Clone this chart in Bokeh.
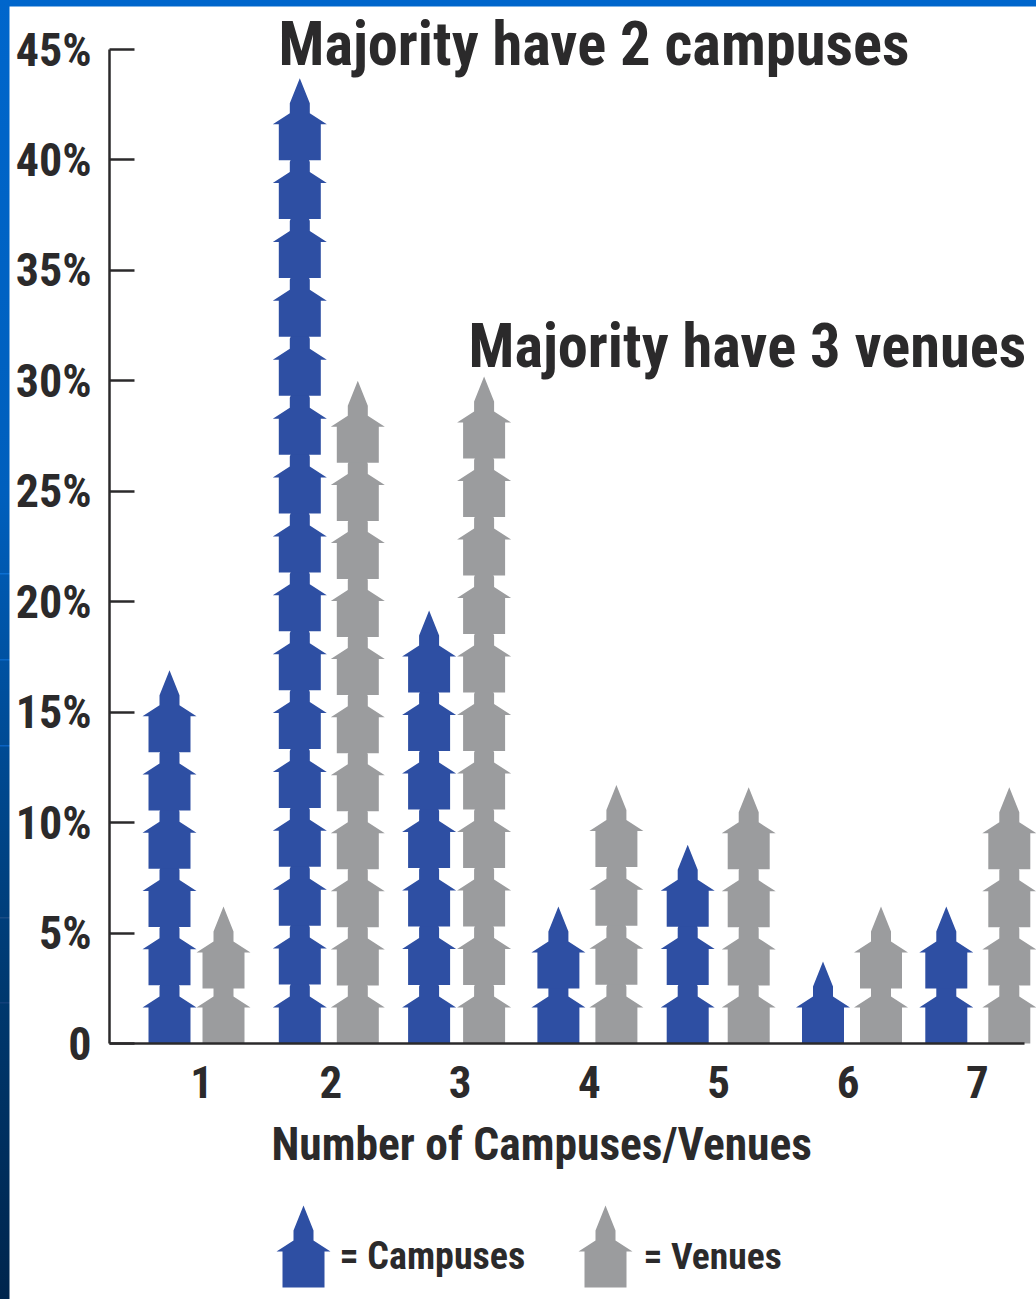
from bokeh.plotting import figure
from bokeh.embed import file_html
from bokeh.resources import INLINE
from bokeh.core.properties import value
from bokeh.models import GlobalInlineStyleSheet, FixedTicker, Range1d

# ---- data -------------------------------------------------------------
categories = [1, 2, 3, 4, 5, 6, 7]
campuses = [16.9, 43.7, 19.6, 6.2, 9.0, 3.6, 6.2]
venues = [6.2, 30.0, 30.2, 11.7, 11.6, 6.2, 11.6]
y_ticks = [0, 5, 10, 15, 20, 25, 30, 35, 40, 45]
y_labels = ["0", "5%", "10%", "15%", "20%", "25%", "30%", "35%", "40%", "45%"]
x_title = "Number of Campuses/Venues"
note_campus = "Majority have 2 campuses"
note_venue = "Majority have 3 venues"
legend_campus = "= Campuses"
legend_venue = "= Venues"

# ---- layout helpers (pixels in the page) -------------------------------
BLUE = "#2e4fa3"
GRAY = "#9b9c9e"
INK = "#2b2a2b"
FONT = "Roboto Condensed, Roboto, sans-serif"
LEFT, TOP = 9, 6
W, H = 1036 - LEFT, 1299 - TOP
X0, DX = 201.0, 129.3       # page x of tick "1", spacing of ticks
Y0, DY = 1043.0, 994 / 45   # page y of 0%, pixels per percent


def dx(px):
    return (px - X0) / DX + 1


def dy(py):
    return (Y0 - py) / DY


campus_shift = [-32, -31, -31, -31, -31, -25, -31]
venue_shift = [22, 27, 24, 27, 30, 33, 32]
HOUSE_H = 82 / DY   # percent height of one house
STEP = 58.9 / DY    # percent covered by each further house


def house(cx_px, base_pct):
    """House outline, centred on page x cx_px, with its base at base_pct."""
    w = [-21, -21, -27, -10, -10, 0, 10, 10, 27, 21, 21]
    h = [0, 36, 36, 47, 57, 82, 57, 47, 36, 36, 0]
    return [dx(cx_px + a) for a in w], [base_pct + b / DY for b in h]


def stack(values, shifts):
    xs, ys = [], []
    for k, v, s in zip(categories, values, shifts):
        n = 1 + round((v - HOUSE_H) / STEP)
        step = (v - HOUSE_H) / (n - 1) if n > 1 else 0
        cx = X0 + (k - 1) * DX + s
        for i in range(n):
            a, b = house(cx, i * step)
            xs.append(a)
            ys.append(b)
    return xs, ys


p = figure(
    width=W, height=H, output_backend="svg", toolbar_location=None,
    x_range=Range1d(dx(LEFT), dx(LEFT + W)), y_range=Range1d(dy(TOP + H), dy(TOP)),
    min_border=0, outline_line_color=None, background_fill_color="white",
    border_fill_color="white", margin=(TOP, 0, 0, LEFT),
)
p.grid.visible = False

for vals, shifts, col in ((campuses, campus_shift, BLUE), (venues, venue_shift, GRAY)):
    xs, ys = stack(vals, shifts)
    p.patches(xs, ys, fill_color=col, line_color=None)

# legend marks
for cx, col in ((303, BLUE), (605, GRAY)):
    a, b = house(cx, dy(1287))
    p.patch(a, b, fill_color=col, line_color=None)

# axes
ya = p.yaxis[0]
ya.fixed_location = dx(109)
ya.bounds = (0, 45)
ya.ticker = FixedTicker(ticks=y_ticks)
ya.major_label_overrides = {t: l for t, l in zip(y_ticks, y_labels)}
ya.major_tick_in = 25
ya.major_tick_out = 0
ya.minor_tick_line_color = None
ya.major_tick_line_color = INK
ya.major_tick_line_width = 2.5
ya.axis_line_color = INK
ya.axis_line_width = 2.5
ya.major_label_standoff = 18
ya.major_label_text_font = FONT
ya.major_label_text_font_style = "bold"
ya.major_label_text_font_size = "46px"
ya.major_label_text_color = INK

xa = p.xaxis[0]
xa.fixed_location = 0
xa.bounds = (dx(109), dx(1024))
xa.ticker = FixedTicker(ticks=categories)
xa.major_tick_line_color = None
xa.minor_tick_line_color = None
xa.axis_line_color = INK
xa.axis_line_width = 2.5
xa.major_label_standoff = 16
xa.major_label_text_font = FONT
xa.major_label_text_font_style = "bold"
xa.major_label_text_font_size = "45px"
xa.major_label_text_color = INK

# texts
for txt, px, py, size in (
    (note_campus, 278, 44, "60.5px"),
    (note_venue, 468, 346, "60.5px"),
    (x_title, 271, 1144, "45.5px"),
    (legend_campus, 339, 1255, "38px"),
    (legend_venue, 643, 1255, "37.5px"),
):
    p.text([dx(px)], [dy(py)], text=[txt], text_font=value(FONT), text_font_style="bold",
           text_font_size=size, text_color=INK, text_align="left", text_baseline="middle")

glints = [(573, "#0b6fd2"), (659, "#0a68c8"), (745, "#0a62c2"), (917, "#1a4c84"), (1002, "#12407a")]
layers = [
    f"linear-gradient({c},{c}) 0 {y}px/100% 1.5px no-repeat" for y, c in glints
]
layers.append(
    "linear-gradient(180deg,#0066cc 0%,#005fbd 38%,#00488f 60%,#00386e 77%,#00254d 100%) no-repeat"
)
p.stylesheets = [GlobalInlineStyleSheet(css=(
    "html,body{background:" + ",".join(layers) + ";height:100%;overflow:hidden}"
))]

open("out.html", "w").write(file_html(p, INLINE))
